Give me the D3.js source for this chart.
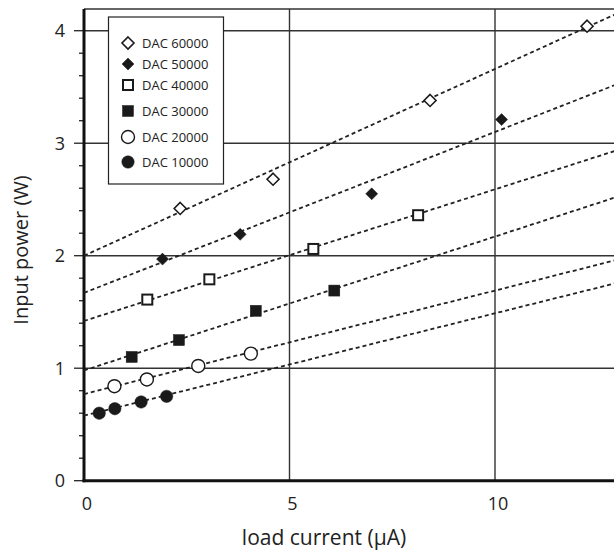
<!DOCTYPE html>
<html>
<head>
<meta charset="utf-8">
<script src="https://cdn.jsdelivr.net/npm/d3@7"></script>
<style>
  body { margin: 0; background: #fff; }
  text { font-family: "Open Sans", "Noto Sans", sans-serif; fill: #222; }
</style>
</head>
<body>
<div id="chart"></div>
<script>
// series names, marker types and measured points (load current µA, input power W)
var seriesNames = ["DAC 60000", "DAC 50000", "DAC 40000", "DAC 30000", "DAC 20000", "DAC 10000"];
var markerShapes = ["diamond", "diamond", "square", "square", "circle", "circle"];
var markerFilled = [false, true, false, true, false, true];

var dac60000 = [[2.34, 2.42], [4.6, 2.68], [8.42, 3.38], [12.24, 4.04]];
var dac50000 = [[1.91, 1.97], [3.8, 2.19], [7.0, 2.55], [10.16, 3.21]];
var dac40000 = [[1.54, 1.61], [3.05, 1.79], [5.58, 2.06], [8.13, 2.36]];
var dac30000 = [[1.16, 1.10], [2.31, 1.25], [4.18, 1.51], [6.09, 1.69]];
var dac20000 = [[0.74, 0.84], [1.53, 0.90], [2.78, 1.02], [4.06, 1.13]];
var dac10000 = [[0.37, 0.60], [0.75, 0.64], [1.39, 0.70], [2.01, 0.75]];

// linear fit lines: intercept and slope
var fitIntercept = [2.0, 1.67, 1.42, 0.98, 0.77, 0.578];
var fitSlope = [0.166, 0.143, 0.117, 0.119, 0.092, 0.091];

var xTicks = [0, 5, 10];
var yTicks = [0, 1, 2, 3, 4];

var allSeries = [dac60000, dac50000, dac40000, dac30000, dac20000, dac10000];

var width = 614, height = 552;
var margin = {top: 9, left: 84, bottom: 71};

var svg = d3.select("#chart").append("svg")
    .attr("width", width)
    .attr("height", height);

var x = d3.scaleLinear().domain([0, 13]).range([margin.left, margin.left + 13 * 41.1]);
var y = d3.scaleLinear().domain([0, 4.193]).range([height - margin.bottom - 0.3, margin.top]);

var plotW = width - margin.left;

svg.append("clipPath").attr("id", "plot-clip")
  .append("rect")
    .attr("x", margin.left)
    .attr("y", margin.top)
    .attr("width", plotW)
    .attr("height", y(0) - margin.top);

// grid lines
svg.selectAll("line.hgrid")
    .data(yTicks.filter(function(d){ return d > 0; }))
  .enter().append("line")
    .attr("class", "hgrid")
    .attr("x1", margin.left).attr("x2", width)
    .attr("y1", function(d){ return y(d); })
    .attr("y2", function(d){ return y(d); })
    .attr("stroke", "#333").attr("stroke-width", 1.4);

svg.selectAll("line.vgrid")
    .data(xTicks.filter(function(d){ return d > 0; }))
  .enter().append("line")
    .attr("class", "vgrid")
    .attr("y1", margin.top).attr("y2", y(0))
    .attr("x1", function(d){ return x(d); })
    .attr("x2", function(d){ return x(d); })
    .attr("stroke", "#333").attr("stroke-width", 1.4);

// top border
svg.append("line")
    .attr("x1", margin.left).attr("x2", width)
    .attr("y1", margin.top).attr("y2", margin.top)
    .attr("stroke", "#333").attr("stroke-width", 1.6);

// y axis ticks (major and minor)
var minorTicks = d3.range(0, 4.01, 0.2);
svg.selectAll("line.ytick")
    .data(minorTicks)
  .enter().append("line")
    .attr("class", "ytick")
    .attr("x1", function(d){ return Math.abs(d - Math.round(d)) < 0.01 ? margin.left - 10 : margin.left - 5; })
    .attr("x2", margin.left)
    .attr("y1", function(d){ return y(d); })
    .attr("y2", function(d){ return y(d); })
    .attr("stroke", "#222").attr("stroke-width", 1.3);

// axis lines
svg.append("line")
    .attr("x1", margin.left).attr("x2", margin.left)
    .attr("y1", margin.top).attr("y2", y(0) + 1.5)
    .attr("stroke", "#111").attr("stroke-width", 3);
svg.append("line")
    .attr("x1", margin.left - 1.5).attr("x2", width)
    .attr("y1", y(0)).attr("y2", y(0))
    .attr("stroke", "#111").attr("stroke-width", 3);

// tick labels
svg.selectAll("text.ylab")
    .data(yTicks)
  .enter().append("text")
    .attr("class", "ylab")
    .attr("x", 65)
    .attr("y", function(d){ return y(d); })
    .attr("dy", "0.36em")
    .attr("text-anchor", "end")
    .style("font-size", "18px")
    .text(function(d){ return d; });

svg.selectAll("text.xlab")
    .data(xTicks)
  .enter().append("text")
    .attr("class", "xlab")
    .attr("x", function(d){ return x(d) + 3; })
    .attr("y", 510)
    .attr("text-anchor", "middle")
    .style("font-size", "18px")
    .text(function(d){ return d; });

// axis titles
svg.append("text")
    .attr("x", 324).attr("y", 545)
    .attr("text-anchor", "middle")
    .style("font-size", "21px")
    .text("load current (\u03bcA)");

svg.append("text")
    .attr("transform", "translate(28,250) rotate(-90)")
    .attr("text-anchor", "middle")
    .style("font-size", "20px")
    .text("Input power (W)");

// fit lines
var plot = svg.append("g").attr("clip-path", "url(#plot-clip)");
seriesNames.forEach(function(name, i){
    plot.append("line")
        .attr("x1", x(0)).attr("x2", x(13))
        .attr("y1", y(fitIntercept[i]))
        .attr("y2", y(fitIntercept[i] + fitSlope[i] * 13))
        .attr("stroke", "#222")
        .attr("stroke-width", 1.8)
        .attr("stroke-dasharray", "4,3");
});

function drawMarker(g, shape, filled, cx, cy){
    var fill = filled ? "#1a1a1a" : "#fff";
    var sw = filled ? 0.5 : 1.6;
    if (shape == "diamond") {
        var r = 6;
        g.append("path")
            .attr("d", "M" + cx + "," + (cy - r) + "L" + (cx + r) + "," + cy + "L" + cx + "," + (cy + r) + "L" + (cx - r) + "," + cy + "Z")
            .attr("fill", fill).attr("stroke", "#1a1a1a").attr("stroke-width", sw);
    }
    else if (shape == "square") {
        var s = filled ? 11 : 10;
        g.append("rect")
            .attr("x", cx - s / 2).attr("y", cy - s / 2)
            .attr("width", s).attr("height", s)
            .attr("fill", fill).attr("stroke", "#1a1a1a").attr("stroke-width", filled ? 0.5 : 2);
    }
    else {
        g.append("circle")
            .attr("cx", cx).attr("cy", cy).attr("r", filled ? 6.2 : 6.5)
            .attr("fill", fill).attr("stroke", "#1a1a1a").attr("stroke-width", filled ? 0.5 : 1.4);
    }
}

var marks = svg.append("g");
allSeries.forEach(function(pts, i){
    pts.forEach(function(p){
        drawMarker(marks, markerShapes[i], markerFilled[i], x(p[0]), y(p[1]));
    });
});

// legend
var legend = svg.append("g");
legend.append("rect")
    .attr("x", 108.5).attr("y", 17)
    .attr("width", 115).attr("height", 167)
    .attr("fill", "#fff").attr("stroke", "#222").attr("stroke-width", 1.2);
var legendY = [43, 64, 85, 111, 137, 162];
seriesNames.forEach(function(name, i){
    var sh = markerShapes[i];
    drawMarker(legend, sh, markerFilled[i], 128, legendY[i]);
    legend.append("text")
        .attr("x", 142).attr("y", legendY[i])
        .attr("dy", "0.36em")
        .style("font-size", "13px")
        .text(name);
});
</script>
</body>
</html>
